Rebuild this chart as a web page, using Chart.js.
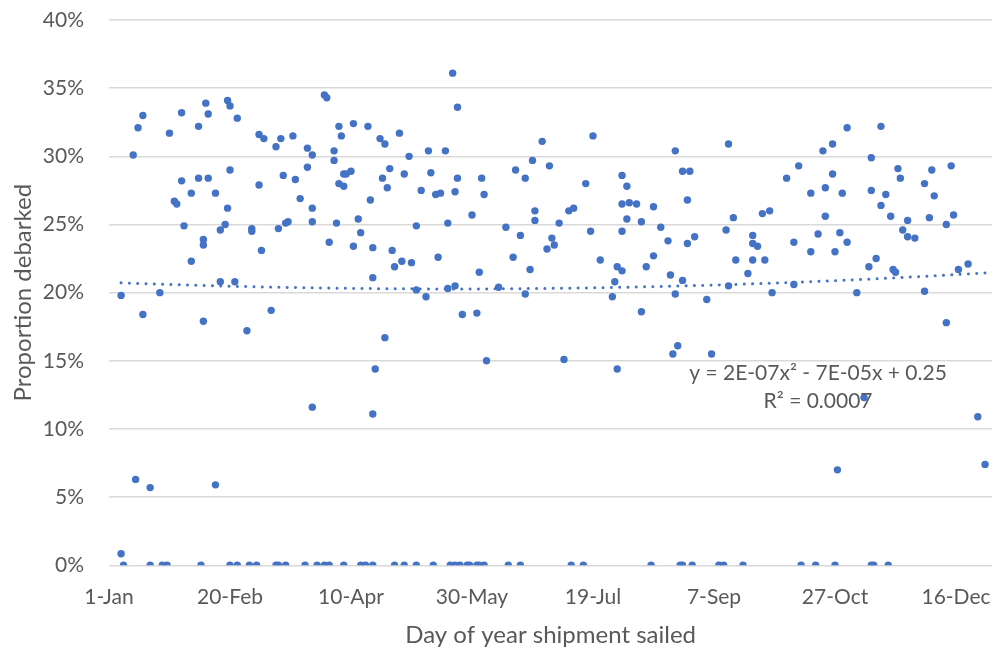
<!DOCTYPE html>
<html>
<head>
<meta charset="utf-8">
<script src="https://cdn.jsdelivr.net/npm/chart.js@4.4.1/dist/chart.umd.min.js"></script>
<style>
  html, body { margin: 0; padding: 0; background: #ffffff; }
  #wrap { width: 996px; height: 650px; position: relative; }
</style>
</head>
<body>
<div id="wrap"><canvas id="chart" width="996" height="650"></canvas></div>
<script>
// Day of year each shipment sailed (1 = 1 Jan) and the share of its people debarked.
const sailDay = [
  90, 91, 15, 13, 26, 31, 41, 42, 38, 50,
  51, 54, 63, 65, 72, 77, 70, 83, 85, 11,
  51, 31, 38, 42, 35, 45, 28, 29, 50, 63,
  73, 78, 83, 80, 85, 32, 49, 47, 60, 60,
  71, 74, 75, 85, 40, 40, 64, 92, 143, 145,
  96, 97, 102, 108, 113, 115, 121, 94, 94, 125,
  133, 140, 98, 99, 101, 96, 98, 117, 114, 116,
  123, 134, 130, 136, 138, 144, 145, 155, 156, 109,
  95, 104, 105, 102, 110, 118, 128, 141, 151, 165,
  171, 169, 173, 176, 180, 183, 177, 177, 184, 185,
  182, 201, 198, 191, 193, 187, 200, 213, 215, 213,
  216, 219, 215, 221, 213, 226, 229, 232, 235, 238,
  241, 240, 243, 240, 257, 259, 256, 267, 267, 269,
  271, 274, 306, 320, 300, 296, 316, 286, 281, 300,
  297, 291, 304, 297, 294, 303, 306, 284, 291, 301,
  316, 322, 320, 324, 327, 328, 331, 329, 331, 334,
  338, 341, 342, 340, 349, 347, 350, 35, 47, 53,
  6, 15, 22, 40, 58, 68, 85, 122, 119, 126,
  137, 110, 128, 132, 141, 144, 154, 147, 153, 162,
  168, 175, 173, 115, 111, 110, 157, 204, 211, 213,
  223, 226, 233, 238, 210, 209, 221, 235, 248, 257,
  260, 267, 272, 265, 275, 189, 211, 234, 236, 250,
  315, 318, 325, 326, 352, 356, 284, 310, 338, 347,
  313, 360, 12, 18, 45, 6, 302, 363
];
const debarked = [
  0.345, 0.343, 0.330, 0.321, 0.317, 0.332, 0.339, 0.331, 0.322, 0.341,
  0.337, 0.328, 0.316, 0.313, 0.313, 0.315, 0.307, 0.306, 0.301, 0.301,
  0.290, 0.282, 0.284, 0.284, 0.273, 0.273, 0.267, 0.265, 0.262, 0.279,
  0.286, 0.283, 0.292, 0.269, 0.262, 0.249, 0.250, 0.246, 0.247, 0.245,
  0.247, 0.251, 0.252, 0.252, 0.239, 0.235, 0.231, 0.237, 0.361, 0.336,
  0.322, 0.315, 0.324, 0.322, 0.313, 0.309, 0.317, 0.304, 0.297, 0.300,
  0.304, 0.304, 0.287, 0.287, 0.289, 0.280, 0.278, 0.291, 0.284, 0.277,
  0.287, 0.288, 0.275, 0.272, 0.273, 0.274, 0.284, 0.284, 0.272, 0.268,
  0.251, 0.254, 0.244, 0.234, 0.233, 0.231, 0.249, 0.251, 0.257, 0.248,
  0.242, 0.290, 0.284, 0.297, 0.311, 0.293, 0.260, 0.253, 0.240, 0.235,
  0.232, 0.315, 0.280, 0.260, 0.262, 0.251, 0.245, 0.286, 0.278, 0.265,
  0.266, 0.265, 0.254, 0.252, 0.245, 0.263, 0.248, 0.238, 0.304, 0.289,
  0.289, 0.268, 0.241, 0.236, 0.309, 0.255, 0.246, 0.242, 0.236, 0.234,
  0.258, 0.260, 0.321, 0.322, 0.309, 0.304, 0.299, 0.293, 0.284, 0.287,
  0.277, 0.273, 0.273, 0.256, 0.243, 0.244, 0.237, 0.237, 0.230, 0.230,
  0.275, 0.272, 0.264, 0.256, 0.291, 0.284, 0.253, 0.246, 0.241, 0.240,
  0.280, 0.290, 0.271, 0.255, 0.293, 0.250, 0.257, 0.223, 0.208, 0.208,
  0.198, 0.184, 0.200, 0.179, 0.172, 0.187, 0.116, 0.223, 0.219, 0.222,
  0.226, 0.211, 0.202, 0.197, 0.203, 0.205, 0.215, 0.184, 0.185, 0.204,
  0.226, 0.217, 0.199, 0.167, 0.144, 0.111, 0.150, 0.224, 0.219, 0.216,
  0.219, 0.227, 0.213, 0.209, 0.208, 0.197, 0.186, 0.199, 0.195, 0.205,
  0.224, 0.224, 0.224, 0.214, 0.200, 0.151, 0.144, 0.155, 0.161, 0.155,
  0.219, 0.225, 0.217, 0.215, 0.217, 0.221, 0.206, 0.200, 0.201, 0.178,
  0.123, 0.109, 0.063, 0.057, 0.059, 0.0085, 0.070, 0.074
];
// Shipments where nobody was debarked.
const zeroDays = [
  7, 18, 23, 25, 39, 51, 54, 59, 62, 70,
  71, 74, 82, 87, 90, 92, 98, 105, 107, 110,
  119, 123, 128, 135, 142, 144, 146, 149, 150, 153,
  154, 156, 166, 171, 192, 197, 225, 237, 238, 242,
  253, 255, 263, 287, 293, 301, 316, 317, 323
];

const tickDays = [1, 51, 101, 151, 201, 251, 301, 351];
const tickLabels = ['1-Jan', '20-Feb', '10-Apr', '30-May', '19-Jul', '7-Sep', '27-Oct', '16-Dec'];

// Second-order polynomial trend (constant, linear, quadratic) over day of year.
const trendCoef = [0.2076, -6.87e-5, 2.415e-7];
const trendText = ['y = 2E-07x\u00B2 - 7E-05x + 0.25', 'R\u00B2 = 0.0007'];

const points = sailDay.map((d, i) => ({ x: d, y: debarked[i] }))
  .concat(zeroDays.map(d => ({ x: d, y: 0 })));

const allDays = points.map(p => p.x);
const firstDay = Math.min(...allDays), lastDay = Math.max(...allDays);
const trendPoints = [];
for (let d = firstDay; d <= lastDay; d += 1) {
  trendPoints.push({ x: d, y: trendCoef[0] + trendCoef[1] * d + trendCoef[2] * d * d });
}

const FONT = 'Lato, "Open Sans", sans-serif';
const GREY = '#595959';
const BLUE = '#4472C4';

const trendLabelPlugin = {
  id: 'trendLabel',
  afterDatasetsDraw(chart) {
    const { ctx, scales } = chart;
    const cx = scales.x.getPixelForValue(294);
    ctx.save();
    ctx.fillStyle = GREY;
    ctx.font = '21px ' + FONT;
    ctx.textAlign = 'center';
    ctx.textBaseline = 'middle';
    ctx.fillText(trendText[0], cx, scales.y.getPixelForValue(0.141));
    ctx.fillText(trendText[1], cx, scales.y.getPixelForValue(0.120));
    ctx.restore();
  }
};

new Chart(document.getElementById('chart'), {
  type: 'scatter',
  data: {
    datasets: [
      {
        label: 'Poly. trend',
        data: trendPoints,
        showLine: true,
        pointRadius: 0,
        borderColor: BLUE,
        borderWidth: 3,
        borderDash: [0.01, 8.3],
        borderCapStyle: 'round',
        tension: 0,
        order: 0
      },
      {
        label: 'Proportion debarked',
        data: points,
        pointRadius: 3.7,
        pointHoverRadius: 3.7,
        pointBorderWidth: 0,
        backgroundColor: BLUE,
        borderColor: BLUE,
        order: 1
      }
    ]
  },
  options: {
    responsive: false,
    animation: false,
    devicePixelRatio: 1,
    layout: { padding: { top: 20, right: 0, bottom: 0, left: 0 } },
    plugins: { legend: { display: false }, tooltip: { enabled: false } },
    scales: {
      x: {
        type: 'linear',
        min: 1,
        max: 366,
        afterBuildTicks: s => { s.ticks = tickDays.map(v => ({ value: v })); },
        afterFit: s => { s.height = 84.7; s.paddingLeft = 0; s.paddingRight = 0; },
        grid: { display: false, drawTicks: false },
        border: { display: false },
        ticks: {
          padding: 19,
          color: GREY,
          font: { family: FONT, size: 21 },
          maxRotation: 0,
          autoSkip: false,
          callback: (v) => { const i = tickDays.indexOf(v); return i >= 0 ? tickLabels[i] : ''; }
        },
        title: {
          display: true,
          text: 'Day of year shipment sailed',
          color: GREY,
          font: { family: FONT, size: 24 },
          padding: { top: 1, bottom: 0 }
        }
      },
      y: {
        min: 0,
        max: 0.4,
        afterFit: s => { s.width = 109; s.paddingTop = 0; s.paddingBottom = 0; },
        grid: { color: '#d9d9d9', lineWidth: 1.5, drawTicks: false },
        border: { display: false },
        ticks: {
          stepSize: 0.05,
          padding: 25,
          color: GREY,
          font: { family: FONT, size: 21 },
          callback: v => Math.round(v * 100) + '%'
        },
        title: {
          display: true,
          text: 'Proportion debarked',
          color: GREY,
          font: { family: FONT, size: 24 },
          padding: { top: 9, bottom: 0 }
        }
      }
    }
  },
  plugins: [trendLabelPlugin]
});
</script>
</body>
</html>
